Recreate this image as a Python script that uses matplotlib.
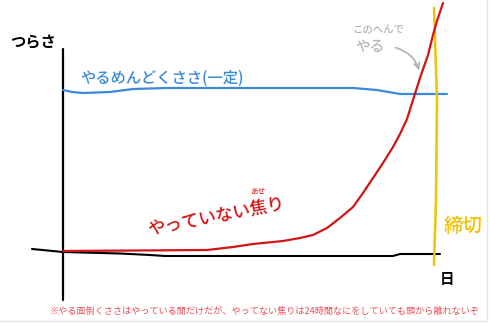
import matplotlib
matplotlib.use("Agg")
import matplotlib.pyplot as plt

plt.rcParams['font.family'] = ['Noto Sans CJK JP', 'DejaVu Sans']

# --- data (drawing units, y grows downward) ---
axis_x_x = [32, 63, 120, 150, 165, 393, 400, 440]
axis_x_y = [249, 252, 253.5, 255, 256, 256, 254, 254]
axis_y_x = [63, 63]
axis_y_y = [49, 300]

blue_x = [63, 72, 83, 110, 133, 167, 353, 377, 400, 447]
blue_y = [90, 92, 93, 92, 89, 88, 88, 90, 94, 94]

red_x = [63, 207, 233, 253, 283, 300, 313, 327, 340, 353, 363, 373, 383,
         393, 400, 407, 413, 420, 428, 433, 437, 443]
red_y = [251, 250, 247, 244, 241, 238, 235, 228, 218, 207, 193, 178, 163,
         147, 134, 119, 100, 78, 55, 35, 21, 3]

yellow_x = [434, 437, 436, 434]
yellow_y = [8, 100, 200, 265]

label_y_axis = "つらさ"
label_x_axis = "日"
label_blue = "やるめんどくささ(一定)"
label_red = "やっていない焦り"
label_ruby = "あせ"
label_deadline = "締切"
label_here1 = "このへんで"
label_here2 = "やる"
footnote = "※やる面倒くささはやっている間だけだが、やってない焦りは24時間なにをしていても頭から離れないぞ"

W, H = 490, 324
fig = plt.figure(figsize=(W / 100, H / 100), dpi=100)
ax = fig.add_axes([0, 0, 1, 1])
ax.set_xlim(0, W)
ax.set_ylim(H, 0)
ax.axis('off')

BLUE = '#3a8ad8'
RED = '#d21414'
YEL = '#f2c200'
GRAY = '#b4b4b4'

ax.plot(axis_y_x, axis_y_y, color='black', lw=1.6, solid_capstyle='round')
ax.plot(axis_x_x, axis_x_y, color='black', lw=1.5, solid_capstyle='round',
        solid_joinstyle='round')
ax.plot(blue_x, blue_y, color=BLUE, lw=1.6, solid_capstyle='round',
        solid_joinstyle='round')
ax.plot(yellow_x, yellow_y, color=YEL, lw=1.8, solid_capstyle='round')
ax.plot(red_x, red_y, color=RED, lw=1.6, solid_capstyle='round', solid_joinstyle='round')

ax.text(10, 42, label_y_axis, fontsize=11, color='black', ha='left', va='center',
        fontweight='bold')
ax.text(447, 279, label_x_axis, fontsize=10.5, color='black', ha='center', va='center',
        fontweight='bold')
ax.text(80, 78, label_blue, fontsize=11, color=BLUE, ha='left', va='center',
        fontweight='medium')
ax.text(216, 216, label_red, fontsize=12.5, color=RED, ha='center', va='center',
        rotation=11, fontweight='medium')
ax.text(258, 192, label_ruby, fontsize=5.5, color=RED, ha='center', va='center')
ax.text(463, 227, label_deadline, fontsize=14, color=YEL, ha='center', va='center',
        fontweight='medium')
ax.text(352, 30, label_here1, fontsize=7.5, color=GRAY, ha='left', va='center',
        fontweight='medium')
ax.text(355, 47, label_here2, fontsize=10.5, color=GRAY, ha='left', va='center',
        fontweight='medium')
ax.annotate('', xy=(420, 73), xytext=(393, 47),
            arrowprops=dict(arrowstyle='->', color=GRAY, lw=1.3,
                            connectionstyle='arc3,rad=-0.3'))
ax.text(265, 311, footnote, fontsize=6.6, color='#e8505a', ha='center', va='center')

# light frame of the picture
ax.plot([487, 487], [0, 321], color='#e6e6e6', lw=1)
ax.plot([0, 487], [321, 321], color='#e6e6e6', lw=1)

fig.savefig('out.png', dpi=100)
